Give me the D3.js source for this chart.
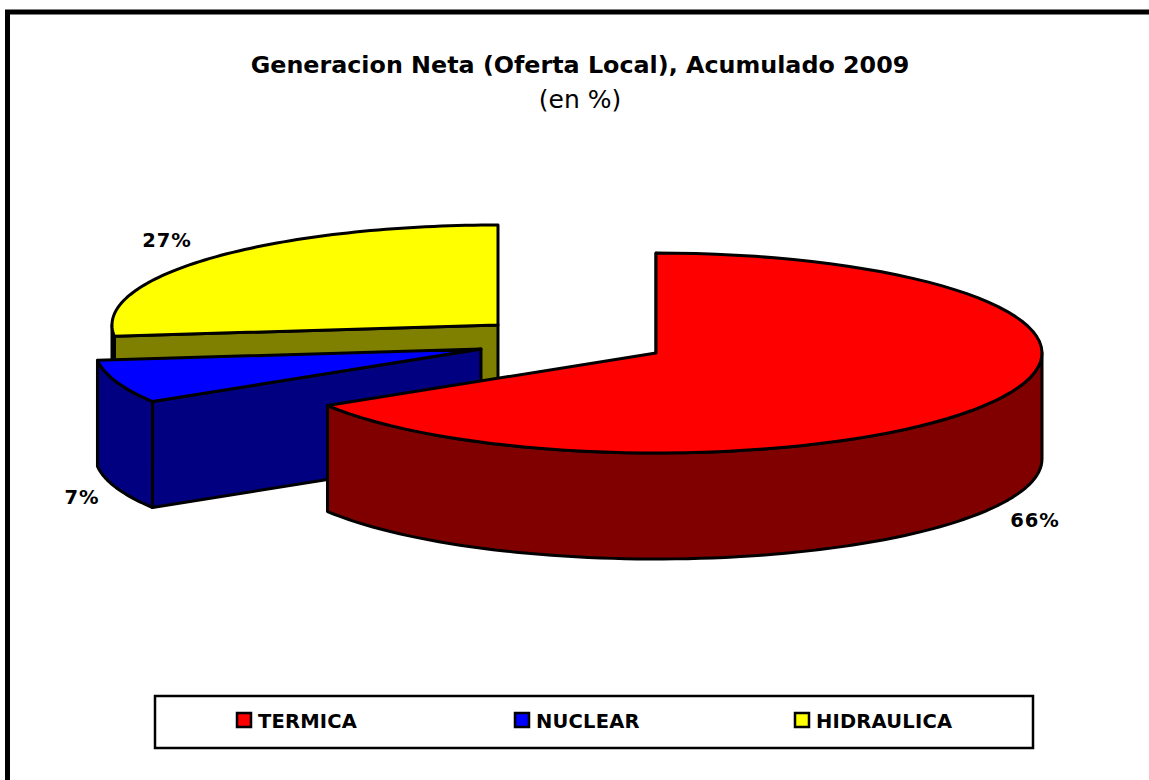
<!DOCTYPE html>
<html><head><meta charset="utf-8">
<script src="https://cdn.jsdelivr.net/npm/d3@7"></script>
<style>html,body{margin:0;padding:0;background:#fff;overflow:hidden}svg{display:block}text{font-family:"DejaVu Sans",Verdana,sans-serif;fill:#000}</style>
</head><body><svg id="c" width="1149" height="780"></svg>
<script>
const categories = ["TERMICA","NUCLEAR","HIDRAULICA"];
const values = [66.2,7,26.8];
const labels = ["66%","7%","27%"];
const topColors = ["#ff0000","#0000ff","#ffff00"];
const sideColors = ["#800000","#000080","#808000"];
const titleText = "Generacion Neta (Oferta Local), Acumulado 2009";
const subtitleText = "(en %)";

const svg = d3.select("#c");
svg.append("rect").attr("x",7.5).attr("y",12).attr("width",1160).attr("height",790)
  .attr("fill","#fff").attr("stroke","#000").attr("stroke-width",5);
svg.append("text").attr("x",580).attr("y",73).attr("text-anchor","middle")
  .attr("font-size",23.8).attr("font-weight","bold").text(titleText);
svg.append("text").attr("x",580).attr("y",108).attr("text-anchor","middle")
  .attr("font-size",25).text(subtitleText);

const arcs = d3.pie().sort(null).value(d=>d)(values);
const centers = [[656,353],[481,349],[498,325]];
const depth = 106;
const sx = c => d3.scaleLinear().domain([0,1]).range([c[0],c[0]+386]);
const sy = c => d3.scaleLinear().domain([0,1]).range([c[1],c[1]-100]);
function ring(c,a0,a1,dy=0){
  const X=sx(c),Y=sy(c);
  return d3.range(0,81).map(i=>{const a=a0+(a1-a0)*i/80;return [X(Math.sin(a)),Y(Math.cos(a))+dy];});
}
const line = d3.line();
const poly = pts => line(pts)+"Z";
function piece(d,fill){return svg.append("path").attr("d",d).attr("fill",fill)
  .attr("stroke","#000").attr("stroke-width",3).attr("stroke-linejoin","round");}

function wall(c,a0,a1,fill){
  const t=ring(c,a0,a1), b=ring(c,a0,a1,depth).reverse();
  piece(poly(t.concat(b)),fill);
}
function radial(c,a,fill){
  const p=ring(c,a,a)[0];
  piece(poly([c,p,[p[0],p[1]+depth],[c[0],c[1]+depth]]),fill);
}
function topFace(c,a0,a1,fill){
  piece(poly([c].concat(ring(c,a0,a1))),fill);
}
// yellow (back), blue, red (front)
[2,1,0].forEach(i=>{
  const a=arcs[i], c=centers[i];
  radial(c,a.startAngle,sideColors[i]);
  const w0=Math.max(a.startAngle,Math.PI/2), w1=Math.min(a.endAngle,1.5*Math.PI);
  if(w1>w0) wall(c,w0,w1,sideColors[i]);
  topFace(c,a.startAngle,a.endAngle,topColors[i]);
});

const labelPos=[[1035,521],[82,498],[167,241]];
labels.forEach((t,i)=>svg.append("text").attr("x",labelPos[i][0]).attr("y",labelPos[i][1]+6)
  .attr("text-anchor","middle").attr("font-size",19.5).attr("letter-spacing",1).attr("font-weight","bold").text(t));

svg.append("rect").attr("x",155).attr("y",696).attr("width",878).attr("height",52)
  .attr("fill","#fff").attr("stroke","#000").attr("stroke-width",2.5);
const legendX=d3.scaleOrdinal().domain(categories).range([237,515,795]);
categories.forEach((t,i)=>{
  const x=legendX(t);
  svg.append("rect").attr("x",x).attr("y",713).attr("width",14).attr("height",14)
    .attr("fill",topColors[i]).attr("stroke","#000").attr("stroke-width",2.5);
  svg.append("text").attr("x",x+21).attr("y",728).attr("font-size",19.5).attr("letter-spacing",0.2).attr("font-weight","bold").text(t);
});
</script></body></html>
